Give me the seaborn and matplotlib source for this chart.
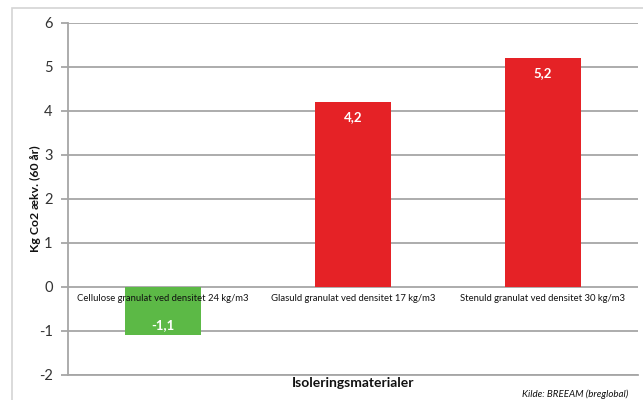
import matplotlib
matplotlib.use("Agg")
import matplotlib.pyplot as plt
import seaborn as sns
import pandas as pd
from matplotlib.patches import Rectangle

categories = ["Cellulose granulat ved densitet 24 kg/m3",
              "Glasuld granulat ved densitet 17 kg/m3",
              "Stenuld granulat ved densitet 30 kg/m3"]
values = [-1.1, 4.2, 5.2]
value_labels = ["-1,1", "4,2", "5,2"]
colors = ["#5cb946", "#e52226", "#e52226"]
yticks = [-2, -1, 0, 1, 2, 3, 4, 5, 6]

sns.set_style("white")
plt.rcParams['font.family'] = ['Lato', 'DejaVu Sans']

W, H = 643, 400
fig = plt.figure(figsize=(W / 100, H / 100), dpi=100)
ax = fig.add_axes([68 / W, (H - 375) / H, (638 - 68) / W, (375 - 23) / H])

df = pd.DataFrame({"cat": categories, "val": values})
sns.barplot(data=df, x="cat", y="val", hue="cat", palette=colors, width=0.4,
            legend=False, ax=ax, edgecolor="none", saturation=1)

ax.set_ylim(-2, 6)
ax.set_xlim(-0.5, 2.5)
ax.set_yticks(yticks)
ax.set_yticklabels([str(t) for t in yticks], fontsize=10.5, color="#333333")
ax.yaxis.grid(True, color="#a6a6a6", linewidth=1.3)
ax.set_axisbelow(True)
for s in ["top", "right"]:
    ax.spines[s].set_visible(False)
ax.spines["left"].set_color("#a6a6a6")
ax.spines["bottom"].set_color("#a6a6a6")
ax.spines["left"].set_linewidth(1.3)
ax.spines["bottom"].set_linewidth(1.3)
ax.tick_params(axis="y", length=5, width=1.3, color="#a6a6a6", pad=6, left=True)
ax.set_xticks([])
ax.set_xlabel("")
ax.set_ylabel("")

# category labels next to the zero line
for i, c in enumerate(categories):
    ax.annotate(c, (i, 0), xytext=(0, -5), textcoords="offset points",
                ha="center", va="top", fontsize=6.8, color="#111111")

# value labels inside bars
for i, (v, lab) in enumerate(zip(values, value_labels)):
    if v >= 0:
        ax.annotate(lab, (i, v), xytext=(0, -11), textcoords="offset points",
                    ha="center", va="center", fontsize=9.5, fontweight="bold", color="white")
    else:
        ax.annotate(lab, (i, v), xytext=(0, 7.5), textcoords="offset points",
                    ha="center", va="center", fontsize=9.5, fontweight="bold", color="white")

fig.text(35 / W, 1 - 199 / H, "Kg Co2 ækv. (60 år)", rotation=90, ha="center", va="center",
         fontsize=8.8, fontweight="bold", color="#111111")
fig.text(353 / W, 1 - 383 / H, "Isoleringsmaterialer", ha="center", va="center",
         fontsize=10, fontweight="bold", color="#111111")
fig.text(628 / W, 1 - 394 / H, "Kilde: BREEAM (breglobal)", ha="right", va="center",
         fontsize=7, style="italic", color="#111111")

fig.patches.append(Rectangle((12 / W, -0.1), 2, 1 - 8 / H + 0.1, transform=fig.transFigure,
                             fill=False, edgecolor="#d4d4d4", linewidth=1.2))

fig.savefig("out.png", dpi=100)
